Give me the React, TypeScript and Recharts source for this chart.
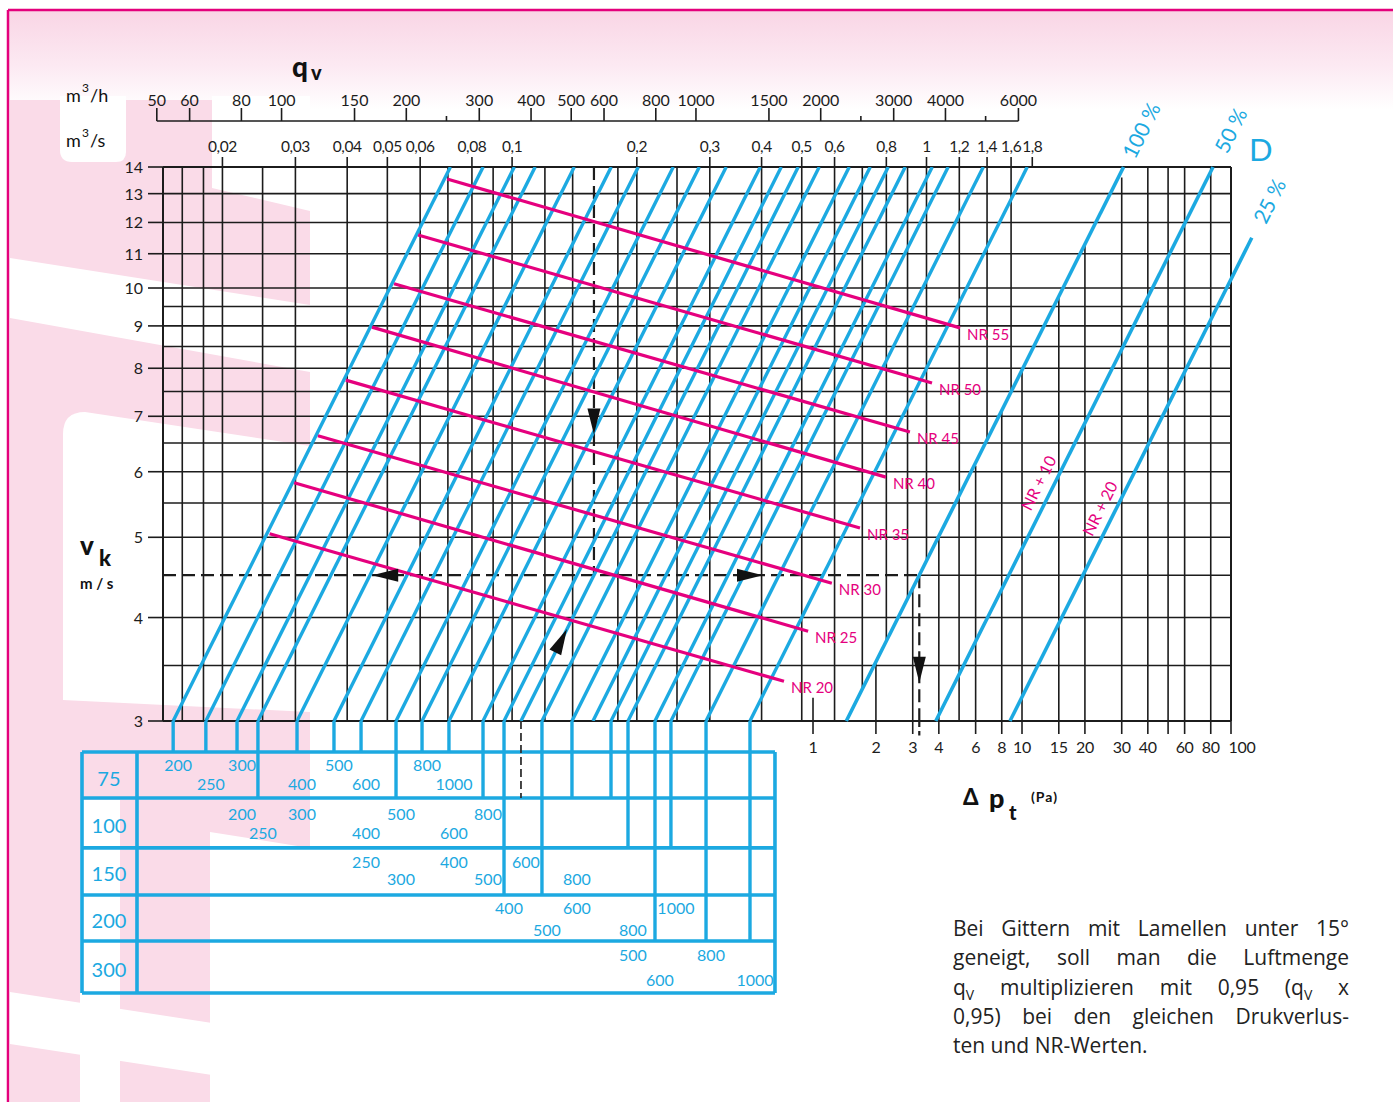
import React from 'react';
import { ComposedChart, Line, XAxis, YAxis, ReferenceLine, ReferenceDot } from 'recharts';

const FONT = "Lato, 'Open Sans', 'DejaVu Sans', sans-serif";
const NOTE_FONT = "'Open Sans', Lato, sans-serif";
const BLUE = '#1ca9e1';
const PINK = '#e5007e';
const INK = '#1c1c1c';

// ---------------- data ----------------
const qvTicksM3s = [0.02, 0.03, 0.04, 0.05, 0.06, 0.08, 0.1, 0.2, 0.3, 0.4, 0.5, 0.6, 0.8, 1, 1.2, 1.4, 1.6, 1.8];
const qvTicksM3h = [50, 60, 80, 100, 150, 200, 250, 300, 400, 500, 600, 800, 1000, 1500, 2000, 2500, 3000, 4000, 5000, 6000];
const qvMinorM3h = [250, 2500, 5000];
const vkTicks = [3, 4, 5, 6, 7, 8, 9, 10, 11, 12, 13, 14];
const vkGrid = [3.5, 4, 5, 5.5, 6, 6.5, 7, 7.5, 8, 8.5, 9, 9.5, 10, 11, 12, 13];
const qvGrid = [0.016, 0.018, 0.02, 0.025, 0.03, 0.04, 0.05, 0.06, 0.07, 0.08, 0.09, 0.1, 0.12, 0.14, 0.18, 0.2, 0.25, 0.3, 0.4, 0.5, 0.6, 0.7, 0.8, 0.9, 1, 1.2, 1.4, 1.6];
const qvGridLowVk = [3, 3, 3, 3, 3, 3, 3, 3, 3, 3, 3, 3, 3, 3, 3, 3, 3, 3, 3, 3, 3, 3.28, 3.75, 4.22, 4.68, 5.62, 6.56, 7.49];
const dpTicks = [1, 2, 3, 4, 6, 8, 10, 15, 20, 30, 40, 50, 60, 80, 100];
const dpUnlabeled = [50];
const dpGrid = [1, 2, 3, 4, 5, 6, 8, 10, 15, 20, 30, 40, 50, 60, 80];
const dpGridTopVk = [3.2, 3.55, 4.35, 5.0, 5.6, 6.1, 7.1, 8.0, 9.8, 11.3, 13.6, 14, 14, 14, 14];

// grille lines: effective area (m2), qv = area * vk
const grilleArea = [0.00507, 0.00608, 0.00723, 0.00812, 0.01009, 0.01239, 0.0144, 0.01749, 0.02021, 0.02347, 0.02836,
  0.03187, 0.03502, 0.03935, 0.04649, 0.05225, 0.05775, 0.06347, 0.07374, 0.08057, 0.09792, 0.12501];
// number of table rows each grille line runs through (-1: no drop)
const grilleDepth = [0, 0, 0, 1, 0, 0, 0, 1, 0, 0, 1, 3, -1, 3, 1, -1, 1, 2, 4, 2, 4, 4];

const damperLabel = ['100 %', '50 %', '25 %'];
const damperArea = [0.2135, 0.351, 0.53];
const damperTopVk = [14, 14, 11.5];
const damperNr = ['', 'NR + 10', 'NR + 20'];
const damperNrVk = [0, 5.82, 5.42];

const nrLevels = [55, 50, 45, 40, 35, 30, 25, 20];
const nrStartQv = [0.0697, 0.0593, 0.0519, 0.0459, 0.0397, 0.034, 0.0298, 0.026];
const nrStartVk = [13.54, 11.59, 10.12, 8.97, 7.74, 6.63, 5.82, 5.05];
const nrEndQv = [1.205, 1.031, 0.912, 0.798, 0.691, 0.591, 0.518, 0.453];
const nrEndVk = [8.95, 7.68, 6.7, 5.91, 5.13, 4.4, 3.85, 3.35];

const tableHeights = ['75', '100', '150', '200', '300'];
// [row, level, width text, grille line]
const tableLabels: [number, number, string, number][] = [
  [0, 0, '200', 0], [0, 0, '300', 2], [0, 0, '500', 5], [0, 0, '800', 8],
  [0, 1, '250', 1], [0, 1, '400', 4], [0, 1, '600', 6], [0, 1, '1000', 9],
  [1, 0, '200', 2], [1, 0, '300', 4], [1, 0, '500', 7], [1, 0, '800', 10],
  [1, 1, '250', 3], [1, 1, '400', 6], [1, 1, '600', 9],
  [2, 0, '250', 6], [2, 0, '400', 9], [2, 0, '600', 12],
  [2, 1, '300', 7], [2, 1, '500', 10], [2, 1, '800', 14],
  [3, 0, '400', 11], [3, 0, '600', 14], [3, 0, '1000', 19],
  [3, 1, '500', 13], [3, 1, '800', 17],
  [4, 0, '500', 17], [4, 0, '800', 20],
  [4, 1, '600', 18], [4, 1, '1000', 21],
];

// reading example
const readVk = 4.5;
const readGrille = 12;

// ---------------- layout ----------------
const X_DOMAIN = [0.014375, 5.43];
const Y_DOMAIN = [3, 14];
const H_DOMAIN = [X_DOMAIN[0] * 3600, X_DOMAIN[1] * 3600];
const DP_DOMAIN = [0.000776, 100];
// hidden layout axis: 0 = plot bottom, 1 = plot top
const TROW = [-0.056, -0.139, -0.229, -0.314, -0.397, -0.491];
const TTEXT = [[-0.0794, -0.1137], [-0.1679, -0.2022], [-0.2545, -0.2852], [-0.3375, -0.3773], [-0.4224, -0.4675]];
const TROWLABEL = [-0.1038, -0.1887, -0.2753, -0.3619, -0.4486];
const TX = { left: 0.009165, col: 0.012441, mid: 0.010646, right: 0.43088 };
const HEAD_Y = 1.083;
const BELOW_Y = -0.026;

const fmtComma = (v: number) => String(v).replace('.', ',');

function seg(key: string, xa: string, ya: string, x1: number, y1: number, x2: number, y2: number, stroke: string, w: number, dash?: string) {
  return (
    <ReferenceLine key={key} xAxisId={xa} yAxisId={ya} segment={[{ x: x1, y: y1 }, { x: x2, y: y2 }]}
      stroke={stroke} strokeWidth={w} strokeDasharray={dash} ifOverflow="visible" />
  );
}

function mark(key: string, xa: string, ya: string, x: number, y: number, render: (cx: number, cy: number) => any) {
  return (
    <ReferenceDot key={key} xAxisId={xa} yAxisId={ya} x={x} y={y} r={1} ifOverflow="visible"
      shape={(p: any) => render(p.cx, p.cy)} />
  );
}

function arrowShape(cx: number, cy: number, dx: number, dy: number) {
  const n = Math.hypot(dx, dy);
  const ux = dx / n, uy = dy / n;
  const L = 26, W = 6.5;
  const tx = cx + ux * L / 2, ty = cy + uy * L / 2;
  const bx = cx - ux * L / 2, by = cy - uy * L / 2;
  const pts = `${tx},${ty} ${bx - uy * W},${by + ux * W} ${bx + uy * W},${by - ux * W}`;
  return <polygon points={pts} fill="#111" />;
}

const PLOT_TOP = 167;
const PLOT_LEFT = 163;
const PLOT_BOTTOM = 721;

const STick = (props: any) => {
  const { x, payload } = props;
  const y = PLOT_TOP;
  return (
    <g>
      <line x1={x} x2={x} y1={y} y2={y - 10} stroke={INK} strokeWidth={1.6} />
      <text x={x} y={y - 15} textAnchor="middle" fontSize={15.5} letterSpacing={-0.4} fill={INK} fontFamily={FONT}>{fmtComma(payload.value)}</text>
    </g>
  );
};

const HTick = (props: any) => {
  const { x, payload } = props;
  const minor = qvMinorM3h.includes(payload.value);
  const base = PLOT_TOP - 46;
  return (
    <g>
      <line x1={x} x2={x} y1={base} y2={base - (minor ? 5 : 13)} stroke={INK} strokeWidth={1.6} />
      {!minor && <text x={x} y={base - 15} textAnchor="middle" fontSize={16} fill={INK} fontFamily={FONT}>{payload.value}</text>}
    </g>
  );
};

const DpTick = (props: any) => {
  const { x, payload, index } = props;
  const y = PLOT_BOTTOM;
  const lab = !dpUnlabeled.includes(payload.value);
  const last = index === dpTicks.length - 1;
  return (
    <g>
      <line x1={x} x2={x} y1={y} y2={y + 13} stroke={INK} strokeWidth={1.6} />
      {lab && <text x={x + (last ? 11 : 0)} y={y + 32} textAnchor="middle" fontSize={16} letterSpacing={-0.3} fill={INK} fontFamily={FONT}>{payload.value}</text>}
    </g>
  );
};

const VTick = (props: any) => {
  const { y, payload } = props;
  const x = PLOT_LEFT;
  return (
    <g>
      <line x1={x - 15} x2={x} y1={y} y2={y} stroke={INK} strokeWidth={1.6} />
      <text x={x - 20} y={y + 6} textAnchor="end" fontSize={16} fill={INK} fontFamily={FONT}>{payload.value}</text>
    </g>
  );
};

function Decor() {
  const pk = '#fadbe8';
  return (
    <svg width={1393} height={1102} style={{ position: 'absolute', left: 0, top: 0 }}>
      <defs>
        <linearGradient id="topg" x1="0" y1="0" x2="0" y2="1">
          <stop offset="0" stopColor="#f9d5e5" />
          <stop offset="0.55" stopColor="#fce9f2" />
          <stop offset="1" stopColor="#ffffff" />
        </linearGradient>
      </defs>
      <rect x={8} y={10} width={1385} height={100} fill="url(#topg)" />
      <path d="M10,100 L310,100 L310,1102 L10,1102 Z" fill={pk} />
      <path d="M60,96 L126,96 L126,152 Q126,162 116,162 L72,162 Q60,162 60,150 Z" fill="#fff" />
      <path d="M212,96 L310,96 L310,211 L212,188 Z" fill="#fff" />
      <path d="M10,258 L310,305 L310,372 L10,318 Z" fill="#fff" />
      <path d="M85,412 L310,446 L310,712 L63,700 L63,434 Q63,412 85,412 Z" fill="#fff" />
      <path d="M80,800 L120,800 L120,1102 L80,1102 Z" fill="#fff" />
      <path d="M210,832 L310,848 L310,1102 L210,1102 Z" fill="#fff" />
      <path d="M10,992 L310,1038 L310,1090 L10,1044 Z" fill="#fff" />
      <line x1={8} y1={10} x2={8} y2={1102} stroke="#e4007c" strokeWidth={2.5} />
      <line x1={8} y1={10} x2={1393} y2={10} stroke="#e4007c" strokeWidth={2.5} />
    </svg>
  );
}

function Overlay() {
  const t = { fontFamily: FONT, fill: '#111' } as any;
  return (
    <svg width={1393} height={1102} style={{ position: 'absolute', left: 0, top: 0, pointerEvents: 'none' }}>
      <text x={292} y={77} fontSize={28} fontWeight={900} {...t}>q</text>
      <text x={311} y={80} fontSize={20} fontWeight={900} {...t}>v</text>
      <text x={66} y={102} fontSize={18} {...t}>m</text>
      <text x={82} y={92} fontSize={12} {...t}>3</text>
      <text x={90} y={102} fontSize={18} {...t}>/h</text>
      <text x={66} y={147} fontSize={18} {...t}>m</text>
      <text x={82} y={137} fontSize={12} {...t}>3</text>
      <text x={90} y={147} fontSize={18} {...t}>/s</text>
      <text x={80} y={555} fontSize={26} fontWeight={900} {...t}>v</text>
      <text x={99} y={566} fontSize={22} fontWeight={900} {...t}>k</text>
      <text x={80} y={589} fontSize={15} fontWeight={700} {...t}>m / s</text>
      <text x={963} y={805} fontSize={22} fontWeight={900} {...t}>Δ</text>
      <text x={989} y={808} fontSize={27} fontWeight={900} {...t}>p</text>
      <text x={1009} y={820} fontSize={20} fontWeight={900} {...t}>t</text>
      <text x={1031} y={802} fontSize={14} fontWeight={700} letterSpacing={1} {...t}>(Pa)</text>
      <text x={1249} y={161} fontSize={31} fontFamily={FONT} fill={BLUE}>D</text>
    </svg>
  );
}

function Note() {
  const line = (content: any, last = false) => (
    <div style={{ textAlign: last ? 'left' : 'justify', textAlignLast: last ? 'left' : 'justify', whiteSpace: 'nowrap', height: 29.3 } as any}>{content}</div>
  );
  const sub = <span style={{ fontSize: 14, position: 'relative', top: 5, lineHeight: 0 }}>V</span>;
  return (
    <div style={{ position: 'absolute', left: 953, top: 914, width: 396, fontFamily: NOTE_FONT, fontSize: 21, lineHeight: '29.3px', color: '#222' }}>
      {line('Bei Gittern mit Lamellen unter 15°')}
      {line('geneigt, soll man die Luftmenge')}
      {line(<>q{sub} multiplizieren mit 0,95 (q{sub} x</>)}
      {line('0,95) bei den gleichen Drukverlus-')}
      {line('ten und NR-Werten.', true)}
    </div>
  );
}

export default function App() {
  const els: any[] = [];
  const GW = 1.6;
  vkGrid.forEach((v) => els.push(seg(`h${v}`, 's', 'v', X_DOMAIN[0], v, X_DOMAIN[1], v, INK, GW)));
  qvGrid.forEach((q, i) => els.push(seg(`q${q}`, 's', 'v', q, Y_DOMAIN[1], q, qvGridLowVk[i], INK, GW)));
  dpGrid.forEach((p, i) => els.push(seg(`p${p}`, 'dp', 'v', p, Y_DOMAIN[0], p, dpGridTopVk[i], INK, GW)));
  els.push(seg('bt', 's', 'v', X_DOMAIN[0], 14, X_DOMAIN[1], 14, INK, 2));
  els.push(seg('bb', 's', 'v', X_DOMAIN[0], 3, X_DOMAIN[1], 3, INK, 2));
  els.push(seg('bl', 's', 'v', X_DOMAIN[0], 3, X_DOMAIN[0], 14, INK, 2));
  els.push(seg('br', 's', 'v', X_DOMAIN[1], 3, X_DOMAIN[1], 14, INK, 2));
  const qRead = grilleArea[readGrille] * readVk;
  const qD = damperArea[0] * readVk;
  els.push(seg('rh1', 's', 'v', X_DOMAIN[0], readVk, qD, readVk, INK, 2.2, '13 6'));
  els.push(seg('rh2', 's', 'v', qD, readVk, X_DOMAIN[1], readVk, INK, GW));
  els.push(seg('rv1', 's', 'v', qRead, 14, qRead, readVk, INK, 2.2, '13 6'));
  els.push(seg('rv2', 's', 'v', qD, readVk, qD, 3, INK, 2.2, '13 6'));
  els.push(seg('rv3', 's', 'lay', qD, 0, qD, BELOW_Y, INK, 2.2, '6 4'));
  els.push(seg('hb', 'h', 'lay', qvTicksM3h[0], HEAD_Y, qvTicksM3h[qvTicksM3h.length - 1], HEAD_Y, INK, 1.6));

  const TB = 3.6;
  els.push(seg('tt', 's', 'lay', TX.left, TROW[0], TX.right, TROW[0], BLUE, TB));
  TROW.slice(1).forEach((r, i) => els.push(seg(`tr${i}`, 's', 'lay', TX.left, r, TX.right, r, BLUE, TB)));
  els.push(seg('tl', 's', 'lay', TX.left, TROW[0], TX.left, TROW[5], BLUE, TB));
  els.push(seg('tc', 's', 'lay', TX.col, TROW[0], TX.col, TROW[5], BLUE, TB));
  els.push(seg('trr', 's', 'lay', TX.right, TROW[0], TX.right, TROW[5], BLUE, TB));
  grilleArea.forEach((a, i) => {
    const d = grilleDepth[i];
    if (d >= 0) els.push(seg(`gd${i}`, 's', 'lay', a * 3, 0, a * 3, TROW[d], BLUE, 3.4));
  });
  els.push(seg('rd', 's', 'lay', grilleArea[readGrille] * 3, 0, grilleArea[readGrille] * 3, TROW[1], '#333', 1.8, '8 4'));
  tableHeights.forEach((h, r) => els.push(mark(`th${h}`, 's', 'lay', TX.mid, TROWLABEL[r], (cx, cy) => (
    <text x={cx} y={cy + 7} textAnchor="middle" fontSize={20} fill={BLUE} fontFamily={FONT}>{h}</text>))));
  tableLabels.forEach(([r, lv, txt, li], k) => els.push(mark(`tl${k}`, 's', 'lay', grilleArea[li] * 3, TTEXT[r][lv], (cx, cy) => (
    <text x={cx + 5} y={cy + 6} textAnchor="middle" fontSize={16} fill={BLUE} fontFamily={FONT}>{txt}</text>))));

  damperArea.forEach((a, i) => {
    els.push(seg(`d${i}`, 's', 'v', a * 3, 3, a * damperTopVk[i], damperTopVk[i], BLUE, 3.6));
    els.push(mark(`dl${i}`, 's', 'v', a * damperTopVk[i], damperTopVk[i], (cx, cy) => (
      <text x={cx + 17} y={cy - 37} transform={`rotate(-63.4 ${cx + 17} ${cy - 37})`} textAnchor="middle" dominantBaseline="central"
        fontSize={21} fill={BLUE} fontFamily={FONT}>{damperLabel[i]}</text>)));
    if (damperNr[i]) {
      els.push(mark(`dn${i}`, 's', 'v', a * damperNrVk[i], damperNrVk[i], (cx, cy) => (
        <text x={cx - 17} y={cy} transform={`rotate(-63.4 ${cx - 17} ${cy})`} textAnchor="middle" dominantBaseline="central"
          fontSize={16} fill={PINK} fontFamily={FONT}>{damperNr[i]}</text>)));
    }
  });

  nrLevels.forEach((n, i) => els.push(mark(`nl${n}`, 's', 'v', nrEndQv[i], nrEndVk[i], (cx, cy) => (
    <text x={cx + 7} y={cy + 12} fontSize={15} fill={PINK} fontFamily={FONT}>{`NR ${n}`}</text>))));

  els.push(mark('a1', 's', 'v', 0.0494, readVk, (cx, cy) => arrowShape(cx, cy, -1, 0)));
  els.push(mark('a2', 's', 'v', 0.375, readVk, (cx, cy) => arrowShape(cx, cy, 1, 0)));
  els.push(mark('a3', 's', 'v', qRead, 6.9, (cx, cy) => arrowShape(cx, cy, 0, 1)));
  els.push(mark('a4', 's', 'v', qD, 3.46, (cx, cy) => arrowShape(cx, cy, 0, 1)));
  els.push(mark('a5', 's', 'v', grilleArea[readGrille] * 3.75, 3.75, (cx, cy) => arrowShape(cx, cy, 1, -2)));

  return (
    <div style={{ position: 'absolute', left: 0, top: 0, width: 1393, height: 1102, background: '#fff', overflow: 'hidden', fontFamily: FONT }}>
      <Decor />
      <div style={{ position: 'absolute', left: 0, top: 0 }}>
        <ComposedChart width={1393} height={1102} margin={{ top: 165, right: 162, bottom: 380, left: 162 }}>
          <XAxis xAxisId="s" dataKey="q" type="number" scale="log" domain={X_DOMAIN} allowDataOverflow orientation="top"
            height={1} ticks={qvTicksM3s} interval={0} tick={<STick />} tickLine={false} axisLine={false} tickSize={0} tickMargin={0} />
          <XAxis xAxisId="h" dataKey="h" type="number" scale="log" domain={H_DOMAIN} allowDataOverflow orientation="top"
            height={1} ticks={qvTicksM3h} interval={0} tick={<HTick />} tickLine={false} axisLine={false} tickSize={0} tickMargin={0} />
          <XAxis xAxisId="dp" dataKey="p" type="number" scale="log" domain={DP_DOMAIN} allowDataOverflow orientation="bottom"
            height={1} ticks={dpTicks} interval={0} tick={<DpTick />} tickLine={false} axisLine={false} tickSize={0} tickMargin={0} />
          <YAxis yAxisId="v" type="number" scale="log" domain={Y_DOMAIN} allowDataOverflow width={1}
            ticks={vkTicks} interval={0} tick={<VTick />} tickLine={false} axisLine={false} tickSize={0} tickMargin={0} />
          <YAxis yAxisId="lay" type="number" domain={[0, 1]} allowDataOverflow hide />
          <Line xAxisId="h" yAxisId="v" data={qvTicksM3h.map((h) => ({ h, v: 3 }))} dataKey="v" stroke="none"
            dot={false} activeDot={false} isAnimationActive={false} />
          <Line xAxisId="dp" yAxisId="v" data={dpTicks.map((p) => ({ p, v: 3 }))} dataKey="v" stroke="none"
            dot={false} activeDot={false} isAnimationActive={false} />
          {els}
          {grilleArea.map((a, i) => (
            <Line key={`g${i}`} xAxisId="s" yAxisId="v" data={[{ q: a * 3, v: 3 }, { q: a * 14, v: 14 }]} dataKey="v"
              stroke={BLUE} strokeWidth={3.4} dot={false} activeDot={false} isAnimationActive={false} />
          ))}
          {nrLevels.map((n, i) => (
            <Line key={`nr${n}`} xAxisId="s" yAxisId="v" data={[{ q: nrStartQv[i], v: nrStartVk[i] }, { q: nrEndQv[i], v: nrEndVk[i] }]}
              dataKey="v" stroke={PINK} strokeWidth={3.2} dot={false} activeDot={false} isAnimationActive={false} />
          ))}
        </ComposedChart>
      </div>
      <Overlay />
      <Note />
    </div>
  );
}
